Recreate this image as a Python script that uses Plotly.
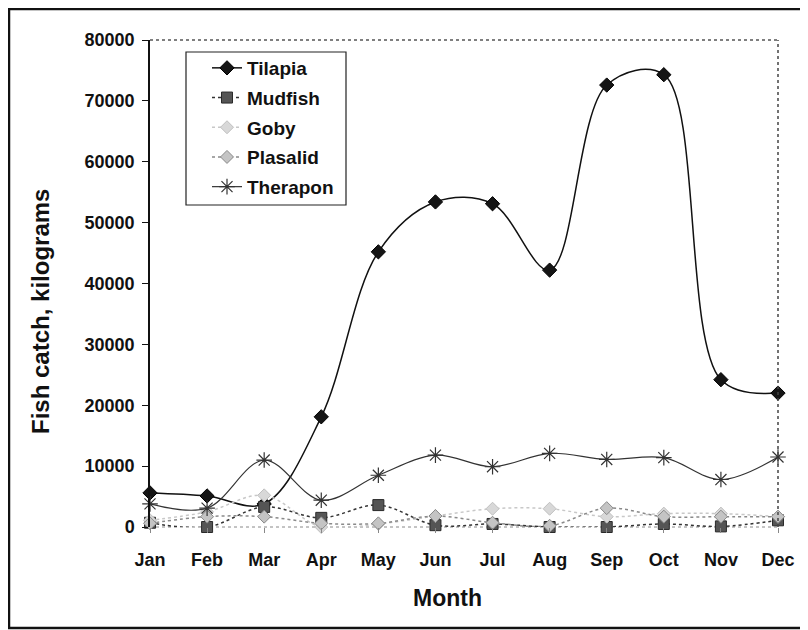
import plotly.graph_objects as go

months = ["Jan", "Feb", "Mar", "Apr", "May", "Jun", "Jul", "Aug", "Sep", "Oct", "Nov", "Dec"]
tilapia = [5600, 5100, 3800, 18100, 45200, 53400, 53100, 42200, 72600, 74300, 24200, 22000]
mudfish = [700, 0, 3300, 1500, 3600, 300, 500, 0, 0, 500, 100, 1100]
goby = [1100, 2500, 5200, 0, 500, 1800, 3000, 3000, 1700, 2200, 2200, 1700]
plasalid = [600, 1700, 1700, 600, 600, 1800, 700, 200, 3100, 1700, 1700, 1700]
therapon = [3800, 3100, 11000, 4400, 8500, 11800, 9900, 12100, 11100, 11400, 7800, 11500]
y_ticks = [0, 10000, 20000, 30000, 40000, 50000, 60000, 70000, 80000]

FONT = "Liberation Sans, Arial, sans-serif"
x = list(range(len(months)))

fig = go.Figure()

def add(name, vals, color, dash, width, symbol, msize, mcolor, mline, mlw, group):
    fig.add_trace(go.Scatter(
        x=x, y=vals, name=name, mode="lines+markers",
        line=dict(color=color, dash=dash, width=width, shape="spline", smoothing=1.0),
        marker=dict(symbol=symbol, size=msize, color=mcolor, line=dict(color=mline, width=mlw)),
        cliponaxis=False, legendgroup=group,
    ))

add("Tilapia", tilapia, "#111111", "solid", 1.5, "diamond", 11, "#151515", "#000000", 1, "g1")
add("Mudfish", mudfish, "#333333", "dot", 1.5, "square", 11, "#555555", "#2a2a2a", 1, "g2")
add("Goby", goby, "#c8c8c8", "dot", 1.5, "diamond", 10, "#d8d8d8", "#c0c0c0", 1, "g3")
add("Plasalid", plasalid, "#8a8a8a", "dot", 1.5, "diamond", 10, "#c4c4c4", "#8a8a8a", 1, "g4")
add("Therapon", therapon, "#333333", "solid", 1.2, "asterisk-open", 13, "#333333", "#333333", 1.2, "g5")

# figure coords (page offset of 8px by body margin removed)
FW, FH = 800, 622
L, R, T, B = 142.0, 770.0, 32.0, 519.0
W, H = R - L, B - T

def px(xp):
    return (xp - L) / W

def py(yp):
    return (B - yp) / H

shapes = [
    dict(type="rect", xref="paper", yref="paper", x0=px(1), x1=px(798), y0=py(620), y1=py(1),
         line=dict(color="#111111", width=2.5), layer="below"),
    dict(type="line", xref="paper", yref="paper", x0=0, x1=1, y0=1, y1=1,
         line=dict(color="#555555", width=1.5, dash="dot")),
    dict(type="line", xref="paper", yref="paper", x0=1, x1=1, y0=0, y1=1,
         line=dict(color="#444444", width=1.5, dash="dot")),
    dict(type="line", xref="paper", yref="paper", x0=0, x1=1, y0=0, y1=0,
         line=dict(color="#888888", width=1, dash="dot"), layer="below"),
    dict(type="rect", xref="paper", yref="paper", x0=px(178), x1=px(338), y0=py(197), y1=py(44),
         line=dict(color="#222222", width=1.2), fillcolor="white", layer="above"),
]

annotations = [
    dict(text="Month", xref="paper", yref="paper", x=px(439), y=py(590), showarrow=False,
         font=dict(family=FONT, size=23, color="#111111", weight="bold"), xanchor="center", yanchor="middle"),
    dict(text="Fish catch, kilograms", xref="paper", yref="paper", x=px(32), y=py(304), showarrow=False,
         textangle=-90, font=dict(family=FONT, size=24, color="#111111", weight="bold"),
         xanchor="center", yanchor="middle"),
]

fig.update_layout(
    width=FW, height=FH,
    margin=dict(l=L, r=FW - R, t=T, b=FH - B),
    paper_bgcolor="white", plot_bgcolor="white",
    shapes=shapes, annotations=annotations,
    font=dict(family=FONT, color="#111111"),
    showlegend=True,
    legend=dict(
        x=px(199), y=py(41), xanchor="left", yanchor="top",
        bgcolor="rgba(0,0,0,0)", borderwidth=0,
        font=dict(family=FONT, size=19, color="#111111", weight="bold"),
        tracegroupgap=2, traceorder="grouped",
    ),
    xaxis=dict(
        tickmode="array", tickvals=x, ticktext=months, range=[0, 11],
        showgrid=False, zeroline=False, showline=False,
        ticks="outside", ticklen=5, tickcolor="#888888",
        ticklabelstandoff=11,
        tickfont=dict(family=FONT, size=18, color="#111111", weight="bold"),
    ),
    yaxis=dict(
        range=[0, 80000], tickvals=y_ticks, ticktext=[str(v) for v in y_ticks],
        showgrid=False, zeroline=False, showline=True, linecolor="#111111", linewidth=1.5,
        ticks="outside", ticklen=6, tickcolor="#111111",
        ticklabelstandoff=4,
        tickfont=dict(family=FONT, size=18, color="#111111", weight="bold"),
    ),
)

fig.write_html("out.html")
